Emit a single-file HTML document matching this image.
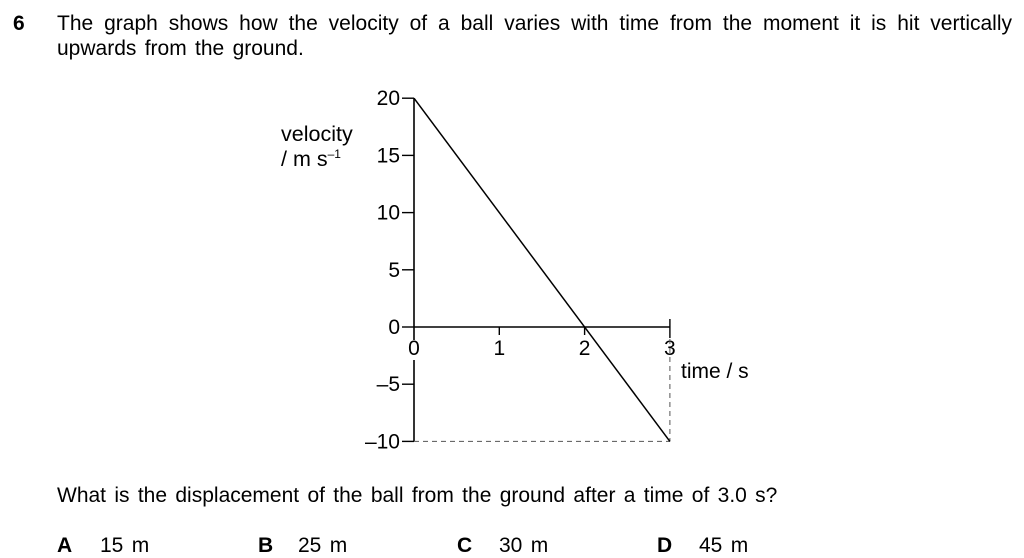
<!DOCTYPE html>
<html><head><meta charset="utf-8"><style>
body{margin:0;width:1024px;height:558px;background:#fff;font-family:"Liberation Sans",Arial,sans-serif;color:#000;position:relative;overflow:hidden}
.t{position:absolute;font-size:21px;white-space:nowrap;line-height:1;word-spacing:2.5px}
</style></head><body>
<div class="t" style="left:13px;top:13px;font-weight:bold">6</div>
<div class="t" style="left:57px;top:13px;width:955px;text-align:justify;text-align-last:justify;white-space:normal">The graph shows how the velocity of a ball varies with time from the moment it is hit vertically</div>
<div class="t" style="left:57px;top:38px">upwards from the ground.</div>
<svg id="chart" width="1024" height="558" style="position:absolute;left:0;top:0" font-family="Liberation Sans, Arial, sans-serif" font-size="21">
<text x="281" y="141" font-size="21.5">velocity</text>
<text x="281" y="166" font-size="21.5">/ m s<tspan font-size="12" dy="-8">–1</tspan></text>
<text x="681" y="378">time / s</text>
</svg>
<div class="t" style="left:57px;top:485px">What is the displacement of the ball from the ground after a time of 3.0 s?</div>
<div class="t" style="left:57px;top:535px"><b>A</b><span style="position:absolute;left:43px">15 m</span></div>
<div class="t" style="left:258px;top:535px"><b>B</b><span style="position:absolute;left:40px">25 m</span></div>
<div class="t" style="left:457px;top:535px"><b>C</b><span style="position:absolute;left:42px">30 m</span></div>
<div class="t" style="left:657px;top:535px"><b>D</b><span style="position:absolute;left:42px">45 m</span></div>
<script>
const yTicks=[20,15,10,5,0,-5,-10];
const yTickLabels=["20","15","10","5","0","–5","–10"];
const xTicks=[0,1,2,3];
const xTickLabels=["0","1","2","3"];
const times=[0,3];
const velocities=[20,-10];
const X=t=>414+t*85.3;
const Y=v=>327-v*11.44;
const svg=document.getElementById('chart');
const NS='http://www.w3.org/2000/svg';
function mk(tag,attrs){const e=document.createElementNS(NS,tag);for(const k in attrs)e.setAttribute(k,attrs[k]);svg.appendChild(e);return e;}
let e;
e=mk('line',{x1:X(0),y1:Y(20),x2:X(0),y2:Y(0)+13,stroke:'#000','stroke-width':1.6});


e=mk('line',{x1:X(0),y1:Y(0)+33,x2:X(0),y2:Y(-10),stroke:'#000','stroke-width':1.6});


e=mk('line',{x1:X(0),y1:Y(0),x2:X(3),y2:Y(0),stroke:'#000','stroke-width':1.6});


yTicks.forEach((v,i)=>{
 e=mk('line',{x1:X(0)-12,y1:Y(v),x2:X(0),y2:Y(v),stroke:'#000','stroke-width':1.4});
 
 
 e=mk('text',{x:X(0)-14,y:Y(v)+7,'text-anchor':'end'});
 e.textContent=yTickLabels[i];
 
 
});
xTicks.forEach((t,i)=>{
 if(t>0){e=mk('line',{x1:X(t),y1:Y(0)-(t==3?8:0),x2:X(t),y2:Y(0)+(t==3?11:8),stroke:'#000','stroke-width':1.4});
 
 }
 e=mk('text',{x:X(t),y:Y(0)+28,'text-anchor':'middle'});
 e.textContent=xTickLabels[i];
 
 
});
e=mk('line',{x1:X(0),y1:Y(-10),x2:X(times[1]),y2:Y(-10),stroke:'#555','stroke-width':1,'stroke-dasharray':'5,4'});


e=mk('line',{x1:X(times[1]),y1:Y(0)+12,x2:X(times[1]),y2:Y(velocities[1]),stroke:'#555','stroke-width':1,'stroke-dasharray':'5,4'});


e=mk('line',{x1:X(times[0]),y1:Y(velocities[0]),x2:X(times[1]),y2:Y(velocities[1]),stroke:'#000','stroke-width':1.5});


</script>
</body></html>
